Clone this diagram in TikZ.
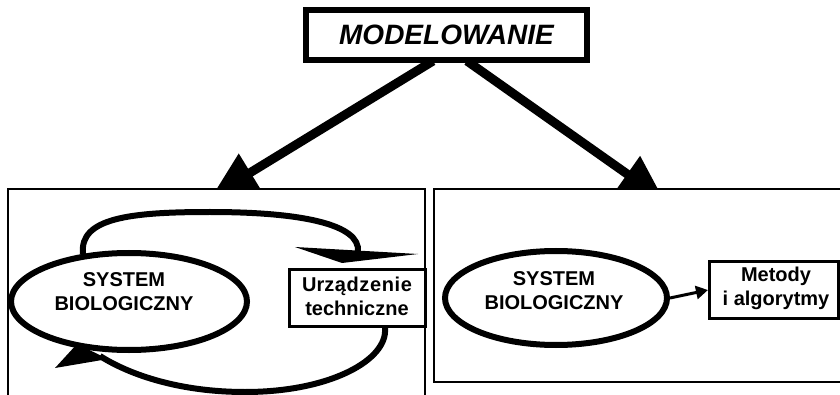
\documentclass[tikz,border=0pt]{standalone}
\usepackage{fontspec}
\setmainfont{Liberation Sans}
\usetikzlibrary{arrows.meta,shapes.geometric}
\begin{document}
\begin{tikzpicture}[x=1pt,y=-1pt,
  txt/.style={font=\fontsize{20}{24}\selectfont\bfseries, align=center, inner sep=0},
  ell/.style={ellipse, draw, line width=6pt, inner sep=0},
  box/.style={rectangle, draw, line width=3pt, inner sep=0},
  panel/.style={rectangle, draw, line width=1.8pt, fill=white, inner sep=0},
  big/.style={line width=9pt, -{Triangle[length=45pt,width=42pt]}},
  loopline/.style={line width=6pt},
]
\clip (0,0) rectangle (840,395);
\fill[white] (0,0) rectangle (840,395);
% top box
\node[draw, line width=6pt, minimum width=281pt, minimum height=50pt, inner sep=0,
      font=\fontsize{28}{32}\selectfont\bfseries\itshape] (model) at (446.5,35) {MODELOWANIE};
% big arrows
\coordinate (ls) at (433,61);
\coordinate (lt) at (212,196);
\coordinate (rs) at (467,61);
\coordinate (rt) at (664,200);
\draw[big] (ls) -- (lt);
\draw[big] (rs) -- (rt);
% panels
\node[panel, minimum width=417pt, minimum height=216pt] (lp) at (216.5,297) {};
\node[panel, minimum width=416pt, minimum height=193pt] (rp) at (642,285.5) {};
% left panel
\node[ell, minimum width=236pt, minimum height=97pt] (lell) at (129,301.5) {};
\node[txt] (ltxt) at (124,292) {SYSTEM\\BIOLOGICZNY};
\node[box, minimum width=136pt, minimum height=57pt] (ubox) at (357.5,298) {};
\node[txt] (utxt) at (357,296) {Urz\kern0.6ptą\kern0.6ptd\kern0.6ptz\kern0.6pte\kern0.6ptn\kern0.6pti\kern0.6pte\\techniczne};
\coordinate (tl1) at (83,254);
\coordinate (tl2) at (358,252);
\draw[loopline] (tl1) .. controls (79,218) and (130,212) .. (210,212)
   .. controls (300,212) and (361,224) .. (tl2);
\fill (295,247) -- (418,254) -- (342,263) -- cycle;
\coordinate (bl1) at (385,328);
\coordinate (bl2) at (100,356);
\draw[loopline] (bl1) .. controls (388,360) and (330,392) .. (245,392)
   .. controls (180,392) and (130,375) .. (bl2);
\fill (55,368) -- (77,344) -- (108,359) -- cycle;
% right panel
\node[ell, minimum width=222pt, minimum height=94pt] (rell) at (556,298) {};
\node[txt] (rtxt) at (554,291) {SYSTEM\\BIOLOGICZNY};
\node[box, minimum width=129pt, minimum height=57pt] (mbox) at (774,290) {};
\node[txt] (mtxt) at (776,288) {Metody\\i algorytmy};
\draw[line width=3pt, -{Triangle[length=12pt,width=13pt]}] (rell.east) -- (mbox.west);
\end{tikzpicture}
\end{document}
